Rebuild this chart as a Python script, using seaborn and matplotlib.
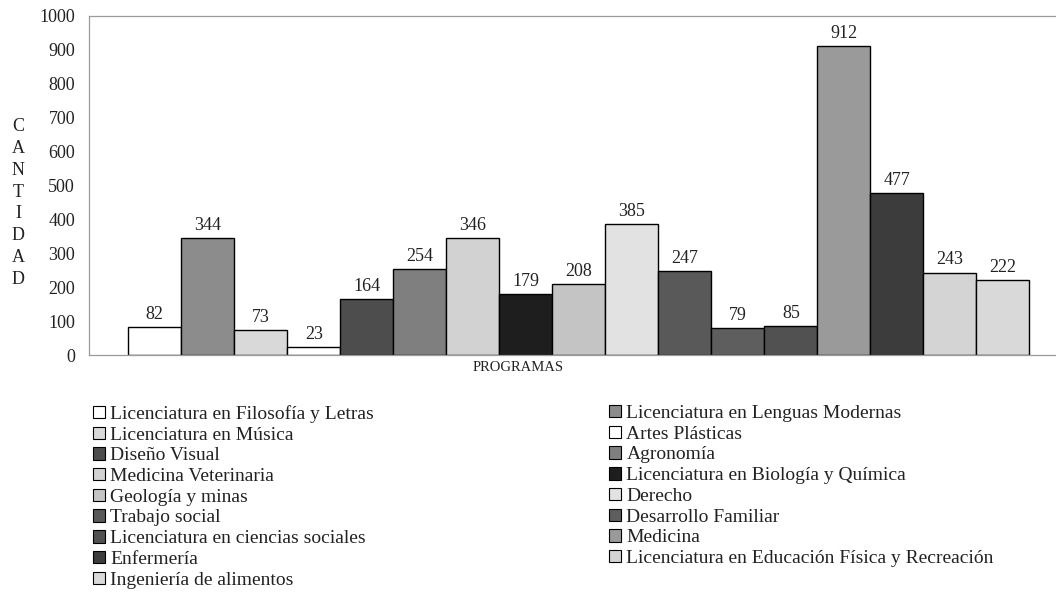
import matplotlib
matplotlib.use("Agg")
import matplotlib.pyplot as plt
import seaborn as sns
import pandas as pd
from matplotlib.patches import Patch

programas = [
    "Licenciatura en Filosofía y Letras",
    "Licenciatura en Lenguas Modernas",
    "Licenciatura en Música",
    "Artes Plásticas",
    "Diseño Visual",
    "Agronomía",
    "Medicina Veterinaria",
    "Licenciatura en Biología y Química",
    "Geología y minas",
    "Derecho",
    "Trabajo social",
    "Desarrollo Familiar",
    "Licenciatura en ciencias sociales",
    "Medicina",
    "Enfermería",
    "Licenciatura en Educación Física y Recreación",
    "Ingeniería de alimentos",
]
cantidad = [82, 344, 73, 23, 164, 254, 346, 179, 208, 385, 247, 79, 85, 912, 477, 243, 222]
colores = ["#ffffff", "#8c8c8c", "#d9d9d9", "#ffffff", "#4d4d4d", "#7f7f7f",
           "#d2d2d2", "#1e1e1e", "#c4c4c4", "#e2e2e2", "#595959", "#5e5e5e",
           "#515151", "#9a9a9a", "#3c3c3c", "#d4d4d4", "#d9d9d9"]
yticks = [0, 100, 200, 300, 400, 500, 600, 700, 800, 900, 1000]

sns.set_theme(style="white")
plt.rcParams["font.family"] = ["Liberation Serif", "DejaVu Serif"]

df = pd.DataFrame({"programa": programas, "cantidad": cantidad})
palette = dict(zip(programas, colores))

fig = plt.figure(figsize=(10.56, 6.01), dpi=100)
ax = fig.add_axes([89 / 1056, 1 - 355 / 601, 1 - 89 / 1056, (355 - 16) / 601])

sns.barplot(data=df, x="programa", y="cantidad", hue="programa", order=programas,
            hue_order=programas, palette=palette, dodge=False, width=1.0,
            edgecolor="black", linewidth=1.0, legend=False, ax=ax)

for c in ax.containers:
    ax.bar_label(c, padding=3, fontsize=13, color="#222222")

ax.set_ylim(0, 1000)
ax.set_xlim(-1.24, 17.0)
ax.set_yticks(yticks)
ax.set_yticklabels([str(v) for v in yticks], fontsize=13, color="#222222")
ax.tick_params(axis="y", length=0, pad=10)
ax.set_xticks([])
ax.set_xlabel("PROGRAMAS", fontsize=10.5, color="#222222")
ax.xaxis.set_label_coords((518 - 89) / 967, -0.018)
ax.xaxis.label.set_va("top")
ax.set_ylabel("")
for side in ["top", "left", "bottom"]:
    ax.spines[side].set_visible(True)
    ax.spines[side].set_color("#9a9a9a")
    ax.spines[side].set_linestyle((0, (1, 1)))
    ax.spines[side].set_linewidth(0.9)
ax.spines["right"].set_visible(False)

fig.text(18 / 1056, 1 - 203 / 601, "\n".join("CANTIDAD"), ha="center", va="center",
         fontsize=13, color="#222222", linespacing=1.38)

handles = [Patch(facecolor=col, edgecolor="black", linewidth=0.8) for col in colores]
left_idx = list(range(0, 17, 2))
right_idx = list(range(1, 17, 2))
leg_kw = dict(frameon=False, fontsize=14, handlelength=0.6, handleheight=0.6,
              handletextpad=0.3, labelspacing=0.19, borderpad=0, borderaxespad=0,
              loc="upper left", labelcolor="#222222")
leg1 = fig.legend([handles[i] for i in left_idx], [programas[i] for i in left_idx],
                  bbox_to_anchor=(93 / 1056, 1 - 405 / 601), **leg_kw)
leg2 = fig.legend([handles[i] for i in right_idx], [programas[i] for i in right_idx],
                  bbox_to_anchor=(609 / 1056, 1 - 405 / 601), **leg_kw)

fig.savefig("out.png", dpi=100, facecolor="white")
